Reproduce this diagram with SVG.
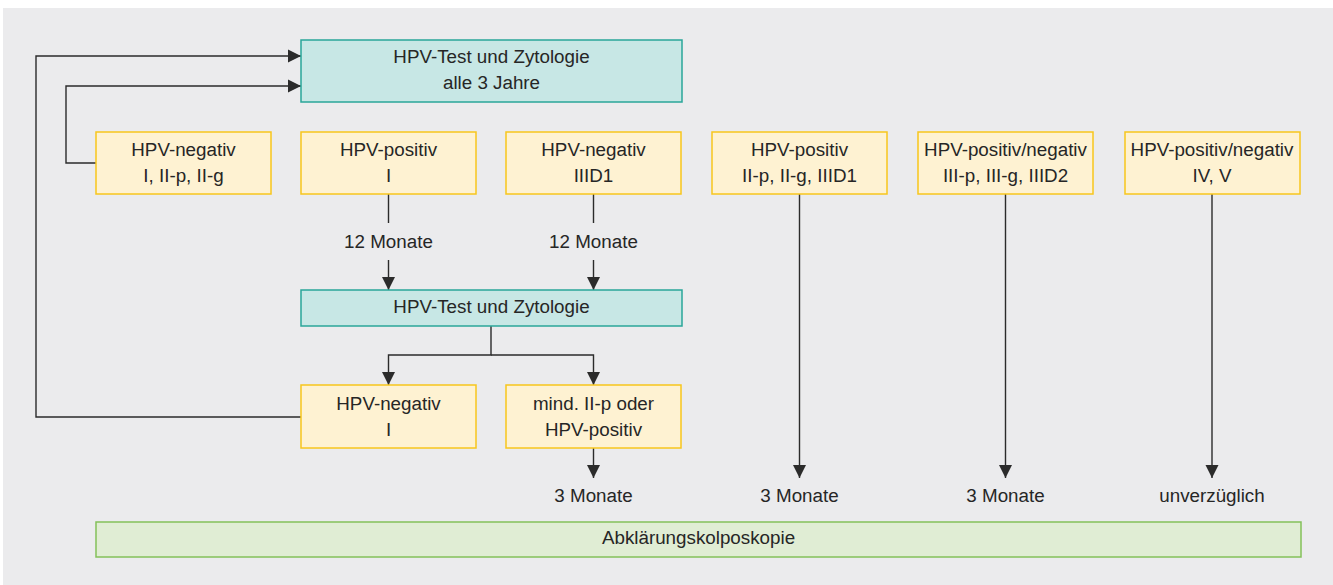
<svg xmlns="http://www.w3.org/2000/svg" width="1333" height="585" viewBox="0 0 1333 585">
<style>
text{font-family:"Liberation Sans",Arial,sans-serif;font-size:18.8px;fill:#262626;text-anchor:middle}
.y{fill:#fef2d2;stroke:#f8c61c;stroke-width:1.5}
.t{fill:#c7e7e5;stroke:#2aa699;stroke-width:1.5}
.g{fill:#e0edd4;stroke:#84c15a;stroke-width:1.5}
.c{fill:none;stroke:#2b2b2b;stroke-width:1.4}
</style>
<defs>
<marker id="a" markerUnits="userSpaceOnUse" markerWidth="14" markerHeight="14" viewBox="0 0 14 14" refX="13" refY="7" orient="auto">
<path d="M0,0.5 L13,7 L0,13.5 Z" fill="#2b2b2b"/>
</marker>
</defs>
<rect x="3" y="8" width="1330" height="577" fill="#ebebed"/>
<g id="connectors">
<path class="c" d="M301,417 H36 V56 H301" marker-end="url(#a)"/>
<path class="c" d="M96,163 H66 V86 H301" marker-end="url(#a)"/>
<path class="c" d="M388.5,194 V223"/>
<path class="c" d="M388.5,260 V290" marker-end="url(#a)"/>
<path class="c" d="M593.5,194 V223"/>
<path class="c" d="M593.5,260 V290" marker-end="url(#a)"/>
<path class="c" d="M491,326 V355 H388.5 V385" marker-end="url(#a)"/>
<path class="c" d="M491,355 H593.5 V385" marker-end="url(#a)"/>
<path class="c" d="M593.5,448 V478" marker-end="url(#a)"/>
<path class="c" d="M799.5,194 V478" marker-end="url(#a)"/>
<path class="c" d="M1005.5,194 V478" marker-end="url(#a)"/>
<path class="c" d="M1212,194 V478" marker-end="url(#a)"/>
</g>
<g id="n_top"><rect class="t" x="301" y="40" width="381" height="62"/><text x="491.5" y="63">HPV-Test und Zytologie</text><text x="491.5" y="89">alle 3 Jahre</text></g>
<g id="n1"><rect class="y" x="96" y="132" width="175" height="62"/><text x="183.5" y="156">HPV-negativ</text><text x="183.5" y="182">I, II-p, II-g</text></g>
<g id="n2"><rect class="y" x="301" y="132" width="175" height="62"/><text x="388.5" y="156">HPV-positiv</text><text x="388.5" y="182">I</text></g>
<g id="n3"><rect class="y" x="506" y="132" width="175" height="62"/><text x="593.5" y="156">HPV-negativ</text><text x="593.5" y="182">IIID1</text></g>
<g id="n4"><rect class="y" x="712" y="132" width="175" height="62"/><text x="799.5" y="156">HPV-positiv</text><text x="799.5" y="182">II-p, II-g, IIID1</text></g>
<g id="n5"><rect class="y" x="918" y="132" width="175" height="62"/><text x="1005.5" y="156">HPV-positiv/negativ</text><text x="1005.5" y="182">III-p, III-g, IIID2</text></g>
<g id="n6"><rect class="y" x="1125" y="132" width="175" height="62"/><text x="1212" y="156">HPV-positiv/negativ</text><text x="1212" y="182">IV, V</text></g>
<g id="l12a"><text x="388.5" y="248">12 Monate</text></g>
<g id="l12b"><text x="593.5" y="248">12 Monate</text></g>
<g id="n_mid"><rect class="t" x="301" y="290" width="381" height="36"/><text x="491.5" y="313">HPV-Test und Zytologie</text></g>
<g id="n7"><rect class="y" x="301" y="385" width="175" height="63"/><text x="388.5" y="410">HPV-negativ</text><text x="388.5" y="436">I</text></g>
<g id="n8"><rect class="y" x="506" y="385" width="175" height="63"/><text x="593.5" y="410">mind. II-p oder</text><text x="593.5" y="436">HPV-positiv</text></g>
<g id="l3a"><text x="593.5" y="502">3 Monate</text></g>
<g id="l3b"><text x="799.5" y="502">3 Monate</text></g>
<g id="l3c"><text x="1005.5" y="502">3 Monate</text></g>
<g id="lu"><text x="1212" y="502">unverzüglich</text></g>
<g id="n_bottom"><rect class="g" x="96" y="522" width="1205" height="35"/><text x="698.5" y="544">Abklärungskolposkopie</text></g>
</svg>
